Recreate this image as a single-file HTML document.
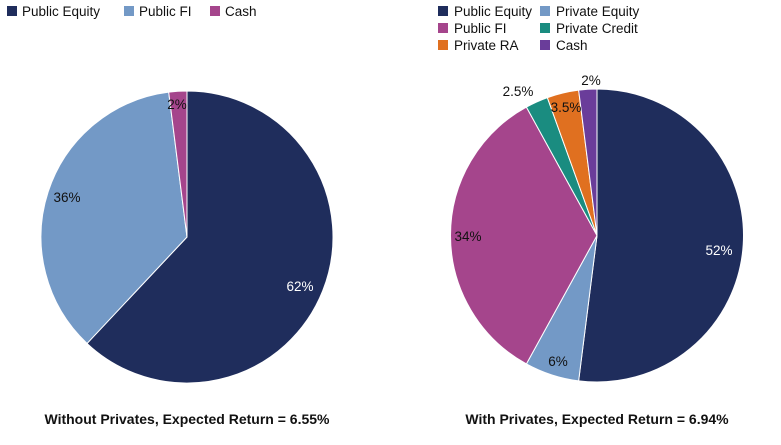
<!DOCTYPE html>
<html><head><meta charset="utf-8"><style>
body{margin:0;background:#fff;width:781px;height:440px;overflow:hidden;font-family:"Liberation Sans",sans-serif}
svg text{font-family:"Liberation Sans",sans-serif;font-size:13.5px;fill:#111}
</style></head><body>
<svg id="s" width="781" height="440" xmlns="http://www.w3.org/2000/svg">
<g id="p1" stroke="#fff" stroke-width="1"></g>
<g id="p2" stroke="#fff" stroke-width="1"></g>
<rect x="7" y="6" width="10" height="10" fill="#1f2d5c"/><text x="22" y="16">Public Equity</text>
<rect x="124" y="6" width="10" height="10" fill="#7399c6"/><text x="139" y="16">Public FI</text>
<rect x="210" y="6" width="10" height="10" fill="#a5458c"/><text x="225" y="16">Cash</text>

<rect x="438" y="6" width="10" height="10" fill="#1f2d5c"/><text x="454" y="16">Public Equity</text>
<rect x="540" y="6" width="10" height="10" fill="#7399c6"/><text x="556" y="16">Private Equity</text>
<rect x="438" y="23" width="10" height="10" fill="#a5458c"/><text x="454" y="33">Public FI</text>
<rect x="540" y="23" width="10" height="10" fill="#1a8c80"/><text x="556" y="33">Private Credit</text>
<rect x="438" y="40" width="10" height="10" fill="#e07020"/><text x="454" y="50">Private RA</text>
<rect x="540" y="40" width="10" height="10" fill="#6a3d9a"/><text x="556" y="50">Cash</text>

<text x="300" y="291" text-anchor="middle" style="fill:#fff">62%</text>
<text x="67" y="202" text-anchor="middle">36%</text>
<text x="177" y="109" text-anchor="middle">2%</text>

<text x="719" y="255" text-anchor="middle" style="fill:#fff">52%</text>
<text x="558" y="366" text-anchor="middle">6%</text>
<text x="468" y="241" text-anchor="middle">34%</text>
<text x="518" y="96" text-anchor="middle">2.5%</text>
<text x="566" y="112" text-anchor="middle">3.5%</text>
<text x="591" y="85" text-anchor="middle">2%</text>

<text x="187" y="424" text-anchor="middle" style="font-weight:bold;font-size:14px">Without Privates, Expected Return = 6.55%</text>
<text x="597" y="424" text-anchor="middle" style="font-weight:bold;font-size:14px">With Privates, Expected Return = 6.94%</text>
</svg>
<script>
function pie(id,cx,cy,r,data){
 var g=document.getElementById(id),a=0;
 data.forEach(function(d){
  var a0=a,a1=a+d[0]/100*2*Math.PI;a=a1;
  var x0=cx+r*Math.sin(a0),y0=cy-r*Math.cos(a0),x1=cx+r*Math.sin(a1),y1=cy-r*Math.cos(a1);
  var p=document.createElementNS("http://www.w3.org/2000/svg","path");
  p.setAttribute("d","M"+cx+","+cy+"L"+x0+","+y0+"A"+r+","+r+" 0 "+((a1-a0)>Math.PI?1:0)+" 1 "+x1+","+y1+"Z");
  p.setAttribute("fill",d[1]);g.appendChild(p);
 });
}
pie("p1",187,237,146,[[62,"#1f2d5c"],[36,"#7399c6"],[2,"#a5458c"]]);
pie("p2",597,235.5,146.5,[[52,"#1f2d5c"],[6,"#7399c6"],[34,"#a5458c"],[2.5,"#1a8c80"],[3.5,"#e07020"],[2,"#6a3d9a"]]);
</script>
</body></html>
